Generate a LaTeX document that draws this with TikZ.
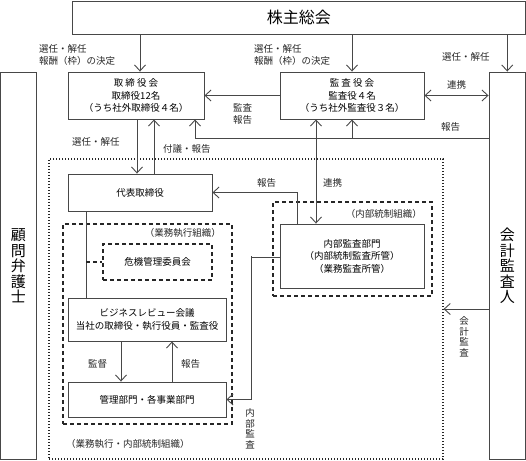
\documentclass[tikz,border=0pt]{standalone}
\usepackage{fontspec}
\setmainfont{Noto Sans CJK JP}
\usetikzlibrary{arrows.meta,calc}
\begin{document}
\begin{tikzpicture}[x=1pt,y=-1pt,
 lc/.style={draw=black!72, line width=0.9pt},
 box/.style={lc, fill=white, inner sep=0pt, align=center, font=\fontsize{9.5}{12.5}\selectfont},
 arr/.style={lc, -{Straight Barb[length=6pt,width=11pt]}},
 darr/.style={lc, {Straight Barb[length=6pt,width=11pt]}-{Straight Barb[length=6pt,width=11pt]}},
 lbl/.style={inner sep=0pt, font=\fontsize{9.5}{12.5}\selectfont, align=left, text=black!85},
 vlbl/.style={inner sep=0pt, font=\fontsize{9.5}{10.5}\selectfont, align=center, text=black!85},
 dashbox/.style={draw=black!85, line width=1.1pt, dash pattern=on 4pt off 3pt, inner sep=0pt},
 dotbox/.style={draw=black!85, line width=1.2pt, dash pattern=on 1.4pt off 1.6pt, inner sep=0pt},
]
\useasboundingbox (0,0) rectangle (526,460);

% group frames
\node[dotbox, minimum width=394pt, minimum height=300pt] (outer) at (246,309) {};
\node[dashbox, minimum width=159pt, minimum height=94pt] (naibu) at (352.5,249) {};
\node[dashbox, minimum width=169pt, minimum height=200pt] (gyomu) at (147.5,324) {};
\node[dashbox, minimum width=109pt, minimum height=36pt, font=\fontsize{9.5}{12.5}\selectfont] (kiki) at (157.5,262) {危機管理委員会};

% solid boxes
\node[box, minimum width=453.5pt, minimum height=33pt, font=\fontsize{16}{18}\selectfont] (share) at (298.75,17.5) {株主総会};
\node[box, minimum width=35.5pt, minimum height=387.5pt, font=\fontsize{15}{15.5}\selectfont] (lawyer) at (18.25,265.75) {顧\\問\\弁\\護\\士};
\node[box, minimum width=36.5pt, minimum height=387.5pt, font=\fontsize{15}{15.5}\selectfont] (auditor) at (507.25,265.75) {会\\計\\監\\査\\人};
\node[box, minimum width=136pt, minimum height=47pt] (board) at (136,95.5) {取 締 役 会\\取締役12名\\（うち社外取締役４名）};
\node[box, minimum width=144pt, minimum height=47pt] (kansa) at (352,95.5) {監 査 役 会\\監査役４名\\（うち社外監査役３名）};
\node[box, minimum width=144pt, minimum height=37pt] (rep) at (140,192.5) {代表取締役};
\node[box, minimum width=144pt, minimum height=64pt] (audit) at (352,256) {内部監査部門\\（内部統制監査所管）\\（業務監査所管）};
\node[box, minimum width=158pt, minimum height=43pt] (biz) at (147,319.5) {ビジネスレビュー会議\\当社の取締役・執行役員・監査役};
\node[box, minimum width=158pt, minimum height=35pt] (kanri) at (147,399.5) {管理部門・各事業部門};

% helper coordinates
\coordinate (b1) at ($(board.north)+(4,0)$);
\coordinate (rp) at ($(auditor.west)+(0,-127.75)$);   % y=138
\coordinate (rc) at ($(board.south)+(59,0)$);         % x=195
\coordinate (bd) at ($(board.south)+(1,0)$);          % x=137
\coordinate (bu) at ($(board.south)+(18,0)$);         % x=154
\coordinate (ku) at ($(kansa.south)+(-36,0)$);        % x=316
\coordinate (ar) at ($(audit.north)+(-55,0)$);        % x=297
\coordinate (rs) at ($(rep.south)+(-54,0)$);          % x=86
\coordinate (kd) at ($(biz.south)+(-26,0)$);          % x=121
\coordinate (ku2) at ($(biz.south)+(25,0)$);          % x=172
\coordinate (aw) at ($(audit.west)+(0,1)$);           % y=257
\coordinate (ax) at ($(audit.west)+(-28,0)$);         % x=252
\coordinate (ca) at ($(auditor.west)+(0,43.25)$);     % y=309

% connectors
\draw[arr] (share.south -| b1) -- (b1);
\draw[arr] (share.south -| kansa.north) -- (kansa.north);
\draw[arr] (share.south -| auditor.north) -- (auditor.north);
\draw[arr] (kansa.west) -- (board.east);
\draw[darr] (kansa.east) -- (kansa.east -| auditor.west);
\draw[arr] (rp) -| (rc);
\draw[arr] (rp -| kansa.south) -- (kansa.south);
\draw[arr] (bd) -- (bd |- rep.north);
\draw[arr] (bu |- rep.north) -- (bu);
\draw[darr] (ku) -- (ku |- audit.north);
\draw[arr] (ar) |- (rep.east);
\draw[lc] (rs) -- (rs |- biz.north);
\draw[lc, dash pattern=on 4pt off 3pt, line width=1.1pt, draw=black!85] (rs |- kiki.west) -- (kiki.west);
\draw[arr] (kd) -- (kd |- kanri.north);
\draw[arr] (ku2 |- kanri.north) -- (ku2);
\draw[arr] (aw) -| (ax) |- (kanri.east);
\draw[arr] (ca) -- (ca -| outer.east);

% labels
\node[lbl, anchor=north west] (l1) at (39,44) {選任・解任\\報酬（枠）の決定};
\node[lbl, anchor=north west] (l2) at (254,44) {選任・解任\\報酬（枠）の決定};
\node[lbl, anchor=west] (l3) at (442,57) {選任・解任};
\node[lbl, anchor=west] (l4) at (447,85) {連携};
\node[lbl, anchor=north west] (l5) at (233,103) {監査\\報告};
\node[lbl, anchor=west] (l6) at (441,127) {報告};
\node[lbl, anchor=west] (l7) at (72,142) {選任・解任};
\node[lbl, anchor=west] (l8) at (163,149) {付議・報告};
\node[lbl, anchor=west] (l9) at (257,183) {報告};
\node[lbl, anchor=west] (l10) at (323,183) {連携};
\node[lbl, anchor=east] (l11) at (422,214) {（内部統制組織）};
\node[lbl, anchor=east] (l12) at (221,233) {（業務執行組織）};
\node[lbl, anchor=west] (l13) at (88,364) {監督};
\node[lbl, anchor=west] (l14) at (181,364) {報告};
\node[vlbl] (l15) at (250,429) {内\\部\\監\\査};
\node[vlbl] (l16) at (464,337) {会\\計\\監\\査};
\node[lbl, anchor=west] (l17) at (66,444) {（業務執行・内部統制組織）};
\end{tikzpicture}
\end{document}
